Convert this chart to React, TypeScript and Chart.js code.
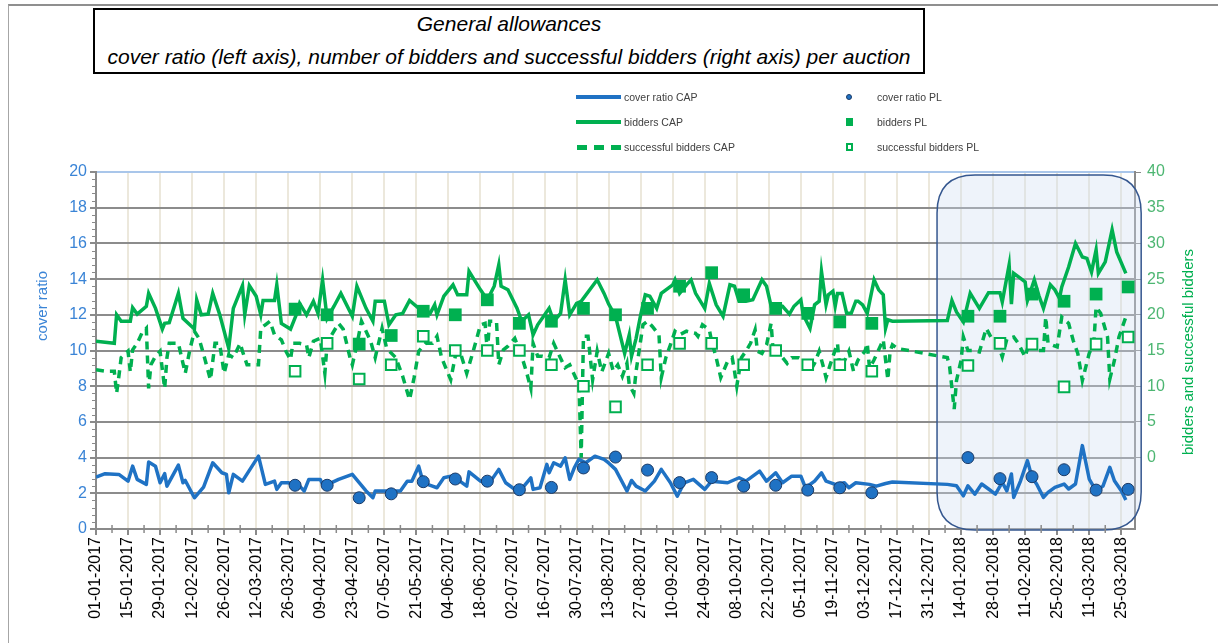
import React, { useEffect, useRef } from 'react';
import { Chart, registerables } from 'chart.js';
Chart.register(...registerables);

// Days counted from 01-01-2017
const CAP_COVER_DAYS = [0,4,10,14,16,18,22,23,26,28,30,31,36,38,39,43,47,51,55,57,58,60,64,71,74,78,79,81,84,89,91,93,98,99,102,106,112,118,121,122,127,133,136,138,141,143,147,149,152,155,159,162,163,168,173,176,179,184,187,190,191,194,197,198,200,203,205,207,209,211,214,218,222,224,227,232,234,236,240,244,247,251,254,257,261,266,269,276,281,284,290,293,297,300,304,308,310,314,317,319,323,327,329,332,338,341,345,348,372,376,379,381,384,387,390,393,396,398,400,401,404,407,409,411,414,416,419,423,425,428,431,434,437,440,443,445,448,450];
const CAP_COVER = [2.91,3.1,3.06,2.68,3.52,2.78,2.5,3.75,3.52,2.59,3.1,2.4,3.58,2.59,2.72,1.75,2.35,3.71,3.15,3.06,2.03,3.06,2.68,4.08,2.5,2.68,2.22,2.59,2.59,2.4,2.13,2.78,2.78,2.5,2.54,2.78,3.06,2.13,1.75,2.13,2.13,2.13,2.68,2.68,3.52,2.59,2.4,2.31,2.87,2.96,2.68,2.4,3.2,2.68,2.78,3.34,2.59,2.13,2.4,2.87,2.22,2.31,3.62,3.15,3.71,3.52,3.99,2.78,3.43,3.9,3.71,4.08,3.9,3.7,3.34,2.13,2.72,2.4,2.13,2.68,3.34,2.59,1.84,2.59,2.78,2.22,2.68,2.59,2.87,2.68,3.24,2.68,3.15,2.59,2.96,2.96,2.31,2.68,3.15,2.68,2.5,2.59,2.31,2.59,2.5,2.4,2.55,2.63,2.5,2.42,1.86,2.42,1.95,2.52,2.24,1.95,2.61,2.14,3.08,1.77,2.7,3.83,2.89,2.52,1.77,2.05,2.33,2.52,2.24,2.52,4.67,2.8,2.14,2.4,3.45,2.7,2.14,1.62];

const CAP_BIDDERS_DAYS = [0,8,9,11,15,16,18,22,23,26,29,30,32,36,38,43,44,46,49,51,54,58,60,64,65,67,70,72,73,78,79,81,85,88,89,92,95,97,99,101,104,107,112,114,118,121,122,126,128,131,134,137,141,143,146,148,149,152,156,158,162,163,168,171,174,176,177,180,184,186,189,191,193,198,200,203,205,207,210,212,219,222,224,227,231,233,234,236,238,240,242,245,247,252,253,255,258,260,262,266,268,271,274,277,279,281,284,287,291,293,295,298,300,303,305,308,309,312,314,316,317,319,320,322,323,324,326,328,330,332,333,335,337,340,342,344,345,346,348,372,374,376,379,382,386,390,395,396,399,400,401,404,406,407,410,412,414,417,419,421,422,425,428,431,433,435,437,438,441,444,446,450];
const CAP_BIDDERS = [16.3,16.0,20.0,19.1,19.1,21.0,20.1,21.2,23.0,20.9,18.0,18.8,18.9,23.0,19.5,18.0,22.1,20.0,20.1,23.0,20.1,15.3,20.9,24.1,20.0,24.1,22.6,20.0,22.0,22.0,24.2,18.8,18.0,20.4,21.6,20.0,21.9,20.2,24.9,19.5,21.2,23.0,19.8,24.0,20.9,19.1,21.9,21.9,18.6,20.0,20.2,22.0,20.9,20.9,20.2,21.4,20.0,22.6,24.2,22.8,22.8,26.1,23.5,22.1,24.0,27.0,24.0,23.5,20.9,19.1,20.0,17.2,18.6,20.9,19.1,20.2,24.9,20.0,21.6,21.9,24.9,23.0,21.5,19.8,14.6,17.2,14.2,16.7,20.0,22.8,22.6,20.9,23.0,24.2,24.9,23.0,24.2,24.9,23.0,20.9,24.4,21.4,19.8,24.2,24.0,21.9,21.9,22.1,24.9,24.0,21.2,21.4,21.2,20.1,21.2,22.1,20.0,18.1,21.4,21.9,26.1,21.4,22.8,23.3,21.2,23.0,23.0,20.2,20.2,21.9,21.9,21.4,20.2,24.9,23.5,22.8,18.1,19.3,19.1,19.2,22.0,20.4,19.0,23.0,20.9,23.1,23.1,21.8,27.0,21.5,25.8,25.1,24.6,22.0,24.9,22.7,20.9,24.2,23.5,22.3,23.9,26.7,30.0,28.1,27.9,26.0,29.1,25.8,27.4,31.9,28.8,25.8];

const CAP_SUCCESS_DAYS = [0,4,8,9,10,11,14,15,16,18,20,22,23,24,26,28,30,31,32,36,39,41,43,45,47,50,52,54,56,58,60,63,64,66,69,71,72,74,76,78,81,83,85,86,89,92,93,95,98,100,101,103,106,108,111,112,114,116,118,120,122,125,127,131,134,137,139,141,144,147,149,151,155,157,159,162,165,168,170,171,172,175,176,178,180,183,186,188,190,191,193,195,198,200,202,205,207,210,211,212,213,215,217,219,221,224,226,228,230,232,233,235,236,239,241,243,246,247,249,251,253,255,258,262,263,265,268,269,271,273,276,278,279,280,282,284,286,288,289,291,293,295,296,298,300,302,304,307,309,312,314,316,318,319,321,324,325,327,329,331,333,336,337,338,340,344,346,347,348,350,372,373,375,376,378,379,381,383,386,389,391,394,396,398,401,403,406,408,411,414,415,416,420,422,425,427,429,431,434,436,437,439,442,443,445,447,450];
const CAP_SUCCESS = [12.3,12.1,12.1,9.0,11.4,14.0,14.9,12.0,15.1,16.0,17.4,18.1,9.7,13.0,14.2,14.9,9.7,14.0,16.0,16.0,11.8,15.1,17.7,16.7,14.5,10.9,16.0,16.0,11.8,14.4,14.0,16.0,14.9,13.0,13.0,13.0,18.1,18.6,19.1,17.2,16.5,14.9,13.7,16.0,16.0,15.8,14.0,16.3,16.7,11.8,16.0,17.2,18.8,18.0,14.0,13.0,15.8,19.1,17.7,16.3,14.0,18.1,15.3,14.0,11.4,8.1,11.2,14.9,16.0,16.0,17.0,14.0,10.9,14.2,14.9,11.8,15.1,18.6,18.8,14.9,19.1,19.1,13.0,15.1,15.6,16.7,14.2,12.1,9.7,16.0,14.2,14.2,14.0,16.0,14.6,12.6,13.0,10.9,10.7,0.0,17.0,17.0,10.9,14.9,12.0,14.6,12.1,13.0,11.4,13.2,10.2,9.0,12.1,18.6,19.1,18.4,17.2,11.2,14.0,15.8,17.7,17.2,17.7,17.4,17.0,18.6,17.9,16.3,14.0,11.2,13.5,14.0,12.1,10.0,14.0,14.9,16.0,17.9,14.9,14.6,15.8,18.8,14.4,15.1,14.0,13.2,14.0,14.0,13.7,12.1,13.2,14.9,12.5,11.2,13.2,16.0,12.5,13.5,14.9,12.1,13.7,14.9,16.0,12.5,13.7,16.5,10.9,14.9,15.8,15.3,14.0,12.7,6.8,10.8,13.6,16.9,15.0,15.0,14.8,18.1,16.9,16.0,14.1,16.6,16.9,16.0,14.1,16.4,15.0,15.0,19.7,16.0,15.5,19.7,18.8,16.4,14.6,10.8,14.6,16.0,21.1,20.2,16.9,11.0,13.6,16.9,19.7];

const PL_DAYS = [87,101,115,129,143,157,171,185,199,213,227,241,255,269,283,297,311,325,339,381,395,409,423,437,451];
const PL_COVER = [2.45,2.45,1.75,1.97,2.65,2.8,2.68,2.2,2.33,3.42,4.03,3.3,2.6,2.88,2.4,2.45,2.18,2.31,2.03,4.0,2.82,2.93,3.32,2.18,2.22];
const PL_BIDDERS = [20.8,20.0,15.9,17.1,20.5,20.0,22.1,18.8,19.1,20.9,20.0,20.9,24.0,25.9,22.8,20.9,20.2,19.0,18.8,19.8,19.8,22.9,21.9,22.9,23.9];
const PL_SUCCESS = [12.1,16.0,11.0,13.0,17.0,15.0,15.0,15.0,13.0,10.0,7.1,13.0,16.0,16.0,13.0,15.0,13.0,13.0,12.1,12.9,16.0,15.9,9.9,15.9,16.9];

const X_MAX_DAY = 454;
const X_LABEL_STEP = 14;
const X_MINOR_STEP = 7;
const HIGHLIGHT_FROM_DAY = 367.5;
const HIGHLIGHT_TO_DAY = 456.7;
const HIGHLIGHT_TOP = 19.83;

const BLUE = '#1F72C4';
const GREEN = '#00B050';
const START = Date.UTC(2017, 0, 1);

function fmt(d: number): string {
  const dt = new Date(START + d * 86400000);
  const p = (n: number) => (n < 10 ? '0' : '') + n;
  return p(dt.getUTCDate()) + '-' + p(dt.getUTCMonth() + 1) + '-' + dt.getUTCFullYear();
}
function pts(days: number[], vals: number[]) {
  return days.map((d, i) => ({ x: d, y: vals[i] }));
}

const decorPlugin = {
  id: 'decor',
  beforeDatasetsDraw(chart: any) {
    const { ctx, scales } = chart;
    const x0 = scales.x.getPixelForValue(HIGHLIGHT_FROM_DAY);
    const x1 = scales.x.getPixelForValue(HIGHLIGHT_TO_DAY);
    const y0 = scales.y.getPixelForValue(HIGHLIGHT_TOP);
    const y1 = scales.y.getPixelForValue(0) + 1;
    const r = 38;
    ctx.save();
    ctx.beginPath();
    ctx.moveTo(x0 + r, y0);
    ctx.lineTo(x1 - r, y0);
    ctx.quadraticCurveTo(x1, y0, x1, y0 + r);
    ctx.lineTo(x1, y1 - r);
    ctx.quadraticCurveTo(x1, y1, x1 - r, y1);
    ctx.lineTo(x0 + r, y1);
    ctx.quadraticCurveTo(x0, y1, x0, y1 - r);
    ctx.lineTo(x0, y0 + r);
    ctx.quadraticCurveTo(x0, y0, x0 + r, y0);
    ctx.closePath();
    ctx.fillStyle = 'rgba(205,220,240,0.35)';
    ctx.fill();
    ctx.strokeStyle = '#35578F';
    ctx.lineWidth = 1.5;
    ctx.stroke();
    ctx.restore();
  },
  afterDraw(chart: any) {
    const { ctx, scales, chartArea } = chart;
    ctx.save();
    ctx.strokeStyle = '#8a8a8a';
    ctx.lineWidth = 1;
    // minor ticks on left axis
    for (let k = 0; k <= 50; k++) {
      const y = Math.round(scales.y.getPixelForValue(k * 0.4)) + 0.5;
      ctx.beginPath();
      ctx.moveTo(chartArea.left - 4, y);
      ctx.lineTo(chartArea.left, y);
      ctx.stroke();
    }
    // minor ticks on date axis
    ctx.lineWidth = 1.5;
    for (let d = X_MINOR_STEP; d <= X_MAX_DAY; d += X_LABEL_STEP) {
      const x = scales.x.getPixelForValue(d);
      ctx.beginPath();
      ctx.moveTo(x, chartArea.bottom - 4);
      ctx.lineTo(x, chartArea.bottom + 4);
      ctx.stroke();
    }
    ctx.restore();
    // axis titles
    ctx.save();
    ctx.fillStyle = '#3A84D6';
    ctx.font = '15px "Liberation Sans", Arial, sans-serif';
    ctx.textAlign = 'center';
    ctx.textBaseline = 'middle';
    ctx.translate(43, 306);
    ctx.rotate(-Math.PI / 2);
    ctx.fillText('cover ratio', 0, 0);
    ctx.restore();
    ctx.save();
    ctx.fillStyle = GREEN;
    ctx.font = '15px "Liberation Sans", Arial, sans-serif';
    ctx.textAlign = 'center';
    ctx.textBaseline = 'middle';
    ctx.translate(1189, 352);
    ctx.rotate(-Math.PI / 2);
    ctx.fillText('bidders and successful bidders', 0, 0);
    ctx.restore();
  },
};

export default function App() {
  const ref = useRef<HTMLCanvasElement>(null);
  useEffect(() => {
    if (!ref.current) return;
    const tickFont = { family: '"Liberation Sans", Arial, sans-serif', size: 16 };
    const chart = new Chart(ref.current, {
      type: 'line',
      data: {
        datasets: [
          { label: 'cover ratio PL', data: pts(PL_DAYS, PL_COVER), yAxisID: 'y', showLine: false, pointStyle: 'circle', pointRadius: 6, backgroundColor: BLUE, borderColor: '#1B3A66', borderWidth: 1 },
          { label: 'bidders PL', data: pts(PL_DAYS, PL_BIDDERS), yAxisID: 'y2', showLine: false, pointStyle: 'rect', pointRadius: 9, backgroundColor: GREEN, borderColor: GREEN, borderWidth: 0 },
          { label: 'successful bidders PL', data: pts(PL_DAYS, PL_SUCCESS), yAxisID: 'y2', showLine: false, pointStyle: 'rect', pointRadius: 7.5, backgroundColor: '#ffffff', borderColor: GREEN, borderWidth: 2 },
          { label: 'cover ratio CAP', data: pts(CAP_COVER_DAYS, CAP_COVER), yAxisID: 'y', borderColor: BLUE, borderWidth: 3.5, pointRadius: 0, tension: 0, borderJoinStyle: 'round' },
          { label: 'bidders CAP', data: pts(CAP_BIDDERS_DAYS, CAP_BIDDERS), yAxisID: 'y2', borderColor: GREEN, borderWidth: 3.5, pointRadius: 0, tension: 0 },
          { label: 'successful bidders CAP', data: pts(CAP_SUCCESS_DAYS, CAP_SUCCESS), yAxisID: 'y2', borderColor: GREEN, borderWidth: 3.5, borderDash: [8, 6], pointRadius: 0, tension: 0 },
        ],
      },
      options: {
        responsive: false,
        animation: false,
        layout: { padding: { top: 172, left: 0, right: 0, bottom: 0 } },
        plugins: { legend: { display: false }, title: { display: false }, tooltip: { enabled: false } },
        scales: {
          x: {
            type: 'linear',
            min: 0,
            max: X_MAX_DAY,
            afterBuildTicks: (s: any) => {
              const t = [];
              for (let d = 0; d <= X_MAX_DAY; d += X_LABEL_STEP) t.push({ value: d });
              s.ticks = t;
            },
            afterFit: (s: any) => { s.height = 114; },
            ticks: {
              autoSkip: false,
              maxRotation: 90,
              minRotation: 90,
              padding: 2,
              color: '#000000',
              font: tickFont,
              callback: (v: any) => fmt(v),
            },
            grid: {
              color: '#ECE8DC',
              lineWidth: 2,
              tickColor: '#8a8a8a',
              tickLength: 6,
            },
            border: { color: '#8a8a8a', width: 2 },
          },
          y: {
            position: 'left',
            min: 0,
            max: 20,
            ticks: { stepSize: 2, color: '#3A84D6', font: tickFont, padding: 3 },
            grid: {
              color: (c: any) => (c.tick && c.tick.value === 20 ? '#A9C6EA' : '#8C8C8C'),
              lineWidth: 2,
              tickLength: 6,
              tickColor: '#8a8a8a',
            },
            border: { color: '#8a8a8a', width: 2 },
            afterFit: (s: any) => { s.width = 96; },
          },
          y2: {
            position: 'right',
            min: -10,
            max: 40,
            ticks: { stepSize: 5, color: '#4DB672', font: tickFont, padding: 6, callback: (v: any) => (v < 0 ? '' : String(v)) },
            grid: {
              drawOnChartArea: false,
              tickLength: 6,
              tickColor: (c: any) => (c.tick && c.tick.value < 0 ? 'rgba(0,0,0,0)' : '#8a8a8a'),
            },
            border: { color: '#8a8a8a', width: 2 },
            afterFit: (s: any) => { s.width = 83; },
          },
        },
      } as any,
      plugins: [decorPlugin],
    });
    return () => chart.destroy();
  }, []);

  const legendText: React.CSSProperties = {
    position: 'absolute',
    font: '10.5px "Liberation Sans", Arial, sans-serif',
    color: '#404040',
    lineHeight: '14px',
    whiteSpace: 'nowrap',
  };
  const rows = [97, 122, 147];
  return (
    <div style={{ position: 'fixed', left: 0, top: 0, width: 1218, height: 643, background: '#fff', overflow: 'hidden' }}>
      <div style={{ position: 'absolute', left: 8, top: 4, width: 1400, height: 800, borderTop: '2px solid #8f8f8f', borderLeft: '1px solid #a6a6a6' }} />
      <canvas ref={ref} width={1218} height={643} style={{ position: 'absolute', left: 0, top: 0, width: 1218, height: 643 }} />
      <div style={{ position: 'absolute', left: 93, top: 8, width: 832, height: 66, border: '2px solid #000', boxSizing: 'border-box', background: '#fff', fontFamily: '"Liberation Sans", Arial, sans-serif', fontStyle: 'italic', fontSize: 21, color: '#000' }}>
        <div style={{ position: 'absolute', left: 0, right: 0, top: 1, textAlign: 'center', lineHeight: '26px' }}>General allowances</div>
        <div style={{ position: 'absolute', left: 0, right: 0, top: 34, textAlign: 'center', lineHeight: '26px', whiteSpace: 'nowrap' }}>cover ratio (left axis), number of bidders and successful bidders (right axis) per auction</div>
      </div>
      {/* legend column 1 */}
      <div style={{ position: 'absolute', left: 576, top: rows[0] - 2, width: 45, height: 4, background: BLUE }} />
      <div style={{ ...legendText, left: 624, top: rows[0] - 7 }}>cover ratio CAP</div>
      <div style={{ position: 'absolute', left: 576, top: rows[1] - 2, width: 45, height: 4, background: GREEN }} />
      <div style={{ ...legendText, left: 624, top: rows[1] - 7 }}>bidders CAP</div>
      {[577, 594, 611].map((x) => (
        <div key={x} style={{ position: 'absolute', left: x, top: rows[2] - 2, width: 10, height: 5, background: GREEN }} />
      ))}
      <div style={{ ...legendText, left: 624, top: rows[2] - 7 }}>successful bidders CAP</div>
      {/* legend column 2 */}
      <div style={{ position: 'absolute', left: 846, top: rows[0] - 3, width: 6, height: 6, borderRadius: 3, background: BLUE, border: '1px solid #1B3A66', boxSizing: 'border-box' }} />
      <div style={{ ...legendText, left: 877, top: rows[0] - 7 }}>cover ratio PL</div>
      <div style={{ position: 'absolute', left: 846, top: rows[1] - 4, width: 7, height: 8, background: GREEN }} />
      <div style={{ ...legendText, left: 877, top: rows[1] - 7 }}>bidders PL</div>
      <div style={{ position: 'absolute', left: 846, top: rows[2] - 4, width: 7, height: 8, background: '#fff', border: '2px solid ' + GREEN, boxSizing: 'border-box' }} />
      <div style={{ ...legendText, left: 877, top: rows[2] - 7 }}>successful bidders PL</div>
    </div>
  );
}
